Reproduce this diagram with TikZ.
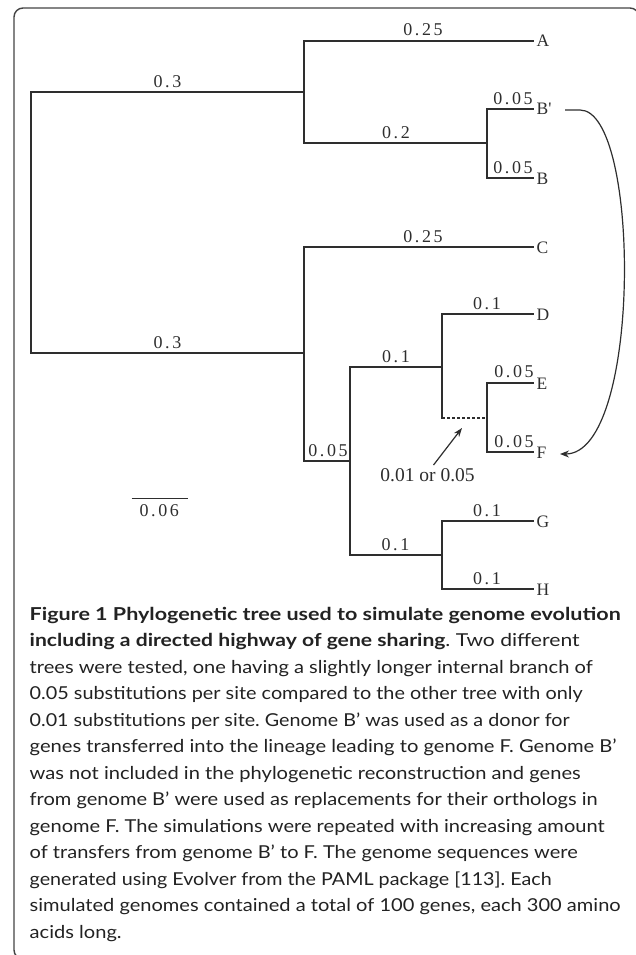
\documentclass[tikz,border=0pt]{standalone}
\usepackage{fontspec}
\usepackage{graphicx}
\setmainfont{Liberation Serif}[Ligatures=TeXOff]
\newfontfamily\capfont{Lato}
\usetikzlibrary{arrows.meta}
\definecolor{treecol}{HTML}{2E2E2E}
\definecolor{capcol}{HTML}{222222}
\definecolor{framecol}{HTML}{444444}
\newsavebox\capbox
\newdimen\capw
\def\lspk{2.6pt}
\def\lsp#1{\lsA#1\relax}
\def\lsA#1{#1\lsB}
\def\lsB#1{\ifx#1\relax\else\kern\lspk#1\expandafter\lsB\fi}
\newcommand\capsize{\fontsize{17.8}{20}\selectfont}
% fit a caption line to a given width by horizontal scaling only
\newcommand\capfit[2]{\sbox\capbox{\frenchspacing#2}\capw=\wd\capbox\pgfmathsetmacro\capsx{#1/\capw}\scalebox{\capsx}[1]{\usebox\capbox}}
\frenchspacing
\begin{document}
\begin{tikzpicture}[x=1pt,y=-1pt,
  br/.style={line width=1.3pt,draw=treecol,line cap=rect},
  brlab/.style={font=\fontsize{18}{18}\selectfont,text=treecol,inner sep=0pt,anchor=base},
  leaf/.style={font=\fontsize{17.5}{17.5}\selectfont,text=treecol,inner sep=0pt,anchor=base west},
  capline/.style={font=\capfont\capsize,text=capcol,inner sep=0pt,anchor=base west}]
\useasboundingbox (0,0) rectangle (636,955);
% frame
\begin{scope}
\clip (0,0) rectangle (636,955);
\draw[framecol,line width=1.4pt,rounded corners=9pt] (14,8) rectangle (639,959);
\end{scope}
% tree coordinates
\coordinate (r1) at (31,92);
\coordinate (r2) at (31,353);
\coordinate (n1) at (304,92);
\coordinate (n1a) at (304,41);
\coordinate (n1b) at (304,143);
\coordinate (A) at (533,41);
\coordinate (n2) at (487,143);
\coordinate (n2a) at (487,109);
\coordinate (n2b) at (487,178);
\coordinate (Bp) at (533,109);
\coordinate (B) at (533,178);
\coordinate (n3) at (304,353);
\coordinate (n3a) at (304,247);
\coordinate (n3b) at (304,461);
\coordinate (C) at (533,247);
\coordinate (n4) at (350,461);
\coordinate (n4a) at (350,367);
\coordinate (n4b) at (350,555);
\coordinate (n5) at (442,367);
\coordinate (n5a) at (442,314);
\coordinate (n5b) at (442,418);
\coordinate (D) at (533,314);
\coordinate (n6) at (487,418);
\coordinate (n6a) at (487,383);
\coordinate (n6b) at (487,452);
\coordinate (E) at (533,383);
\coordinate (F) at (533,452);
\coordinate (n7) at (442,555);
\coordinate (n7a) at (442,521);
\coordinate (n7b) at (442,589);
\coordinate (G) at (533,521);
\coordinate (H) at (533,589);
% branches
\draw[br] (n1) -- (r1) -- (r2) -- (n3);
\draw[br] (A) -- (n1a) -- (n1b) -- (n2);
\draw[br] (Bp) -- (n2a) -- (n2b) -- (B);
\draw[br] (C) -- (n3a) -- (n3b) -- (n4);
\draw[br] (n5) -- (n4a) -- (n4b) -- (n7);
\draw[br] (D) -- (n5a) -- (n5b);
\draw[br,line cap=butt,dash pattern=on 3pt off 2pt] (n5b) -- (n6);
\draw[br] (E) -- (n6a) -- (n6b) -- (F);
\draw[br] (G) -- (n7a) -- (n7b) -- (H);
% leaf labels
\node[leaf] (lA) at (536.5,47) {A};
\node[leaf] (lBp) at (536.5,115) {B'};
\node[leaf] (lB) at (536.5,184) {B};
\node[leaf] (lC) at (536.5,253) {C};
\node[leaf] (lD) at (536.5,320) {D};
\node[leaf] (lE) at (536.5,389) {E};
\node[leaf] (lF) at (536.5,458) {F};
\node[leaf] (lG) at (536.5,527) {G};
\node[leaf] (lH) at (536.5,595) {H};
% branch labels
\node[brlab] (bA) at (423,36) {\lsp{0.25}};
\node[brlab] (bAB) at (167.5,88) {\lsp{0.3}};
\node[brlab] (bBB) at (396,139) {\lsp{0.2}};
\node[brlab] (bBp) at (513,105) {\lsp{0.05}};
\node[brlab] (bB) at (513,173.5) {\lsp{0.05}};
\node[brlab] (bC) at (423,242.5) {\lsp{0.25}};
\node[brlab] (bD) at (487,309.5) {\lsp{0.1}};
\node[brlab] (bCH) at (167.5,348.5) {\lsp{0.3}};
\node[brlab] (bDF) at (396,362) {\lsp{0.1}};
\node[brlab] (bE) at (514,377.5) {\lsp{0.05}};
\node[brlab] (bF) at (514,447.5) {\lsp{0.05}};
\node[brlab] (bDH) at (328,456) {\lsp{0.05}};
\node[brlab] (bGH) at (395.5,550) {\lsp{0.1}};
\node[brlab] (bG) at (487,516.5) {\lsp{0.1}};
\node[brlab] (bH) at (487,584.5) {\lsp{0.1}};
% scale bar
\coordinate (sb1) at (131.5,498.5);
\coordinate (sb2) at (187.5,498.5);
\draw[br,line cap=butt] (sb1) -- (sb2);
\node[brlab] (sbl) at (159.3,516.7) {\lsp{0.06}};
% internal branch note
\node[font=\fontsize{19.5}{19.5}\selectfont,text=treecol,inner sep=0pt,anchor=base] (note) at (427.5,481.7) {0.01 or 0.05};
\coordinate (nt) at (462,428);
\draw[line width=1.2pt,treecol,-{Stealth[length=9pt,width=6.5pt]}] ([xshift=6pt,yshift=3.5pt]note.north) -- (nt);
% transfer arrow B' -> F
\coordinate (cs) at (565,110);
\coordinate (ce) at (560,454);
\draw[line width=1.2pt,treecol,-{Stealth[length=9pt,width=7pt]}] (cs) -- ++(15,0) .. controls (641,110) and (642,454) .. (ce);
% caption
\node[capline] (c1) at (29.5,620) {\capfit{591}{\bfseries Figure 1 Phylogenetic tree used to simulate genome evolution}};
\node[capline] (c2) at (29.5,646.5) {\capfit{550}{{\bfseries including a directed highway of gene sharing}. Two different}};
\node[capline] (c3) at (29.5,673) {\capfit{563}{trees were tested, one having a slightly longer internal branch of}};
\node[capline] (c4) at (29.5,699.5) {\capfit{553}{0.05 substitutions per site compared to the other tree with only}};
\node[capline] (c5) at (29.5,726) {\capfit{540}{0.01 substitutions per site. Genome B’ was used as a donor for}};
\node[capline] (c6) at (29.5,752.5) {\capfit{587}{genes transferred into the lineage leading to genome F. Genome B’}};
\node[capline] (c7) at (29.5,779) {\capfit{551}{was not included in the phylogenetic reconstruction and genes}};
\node[capline] (c8) at (29.5,805.5) {\capfit{568}{from genome B’ were used as replacements for their orthologs in}};
\node[capline] (c9) at (29.5,832) {\capfit{575}{genome F. The simulations were repeated with increasing amount}};
\node[capline] (c10) at (29.5,858.5) {\capfit{548}{of transfers from genome B’ to F. The genome sequences were}};
\node[capline] (c11) at (29.5,885) {\capfit{522}{generated using Evolver from the PAML package [113]. Each}};
\node[capline] (c12) at (29.5,911.5) {\capfit{591}{simulated genomes contained a total of 100 genes, each 300 amino}};
\node[capline] (c13) at (29.5,938) {\capfit{92}{acids long.}};
\end{tikzpicture}
\end{document}
